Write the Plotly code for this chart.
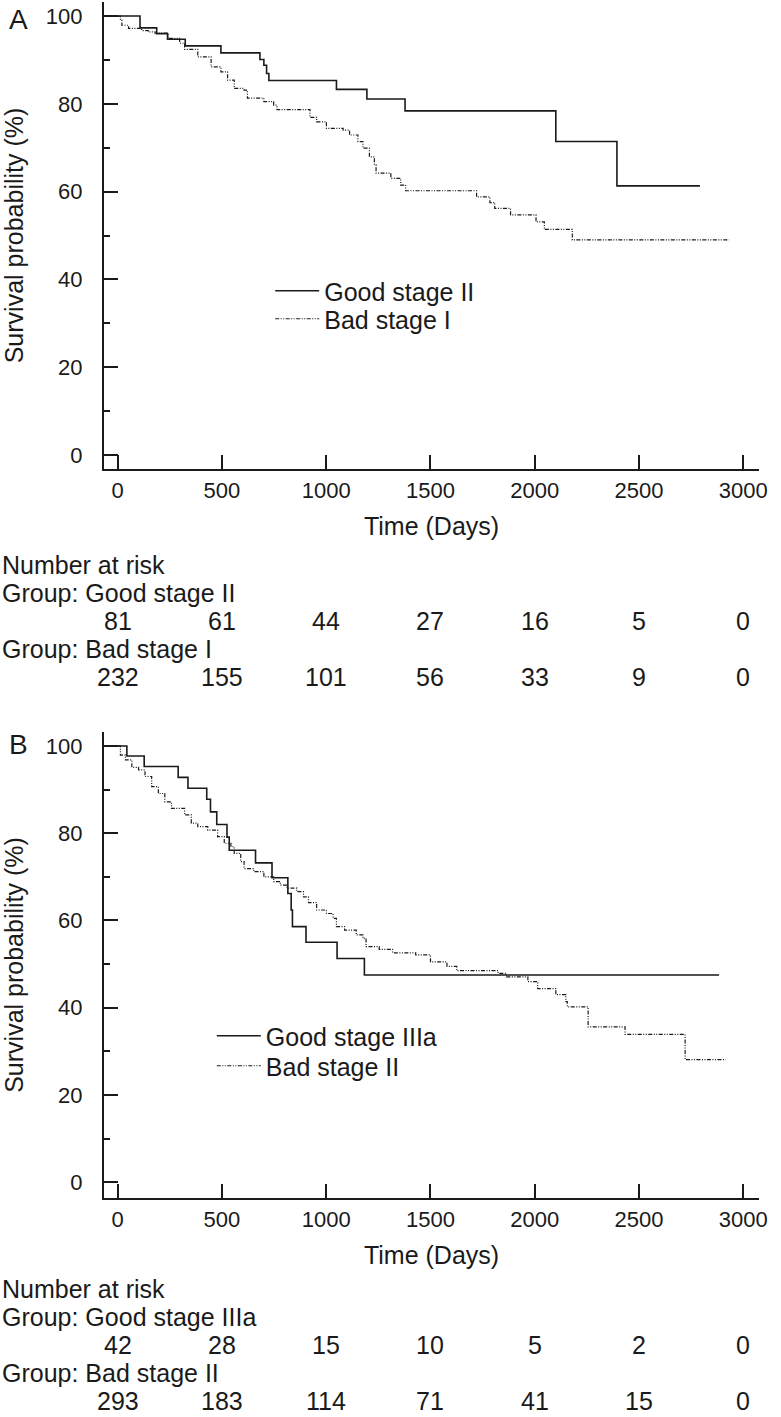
import plotly.graph_objects as go

# ---------------- data ----------------
# Panel A
goodA_t = [0, 107, 187, 239, 324, 495, 682, 701, 714, 725, 1049, 1195, 1378, 2101, 2394, 2792]
goodA_s = [100, 97.3, 96.0, 94.7, 93.2, 91.6, 90.1, 88.8, 86.9, 85.3, 83.3, 81.1, 78.4, 71.4, 61.3, 61.3]

badA_t = [0, 13, 20, 52, 115, 147, 179, 242, 297, 321, 384, 448, 495, 527, 559, 606, 622, 701, 748, 764,
          922, 954, 1001, 1081, 1112, 1152, 1176, 1207, 1231, 1239, 1310, 1357, 1381, 1721, 1785, 1808,
          1884, 2006, 2046, 2180, 2932]
badA_s = [100, 99.1, 97.9, 97.2, 96.7, 96.4, 96.1, 94.9, 93.8, 92.4, 90.7, 88.4, 87.3, 85.4, 83.5, 83.1, 81.3, 80.5, 79.7, 78.7,
          76.9, 75.9, 74.4, 74.0, 72.9, 71.4, 69.9, 67.9, 66.1, 64.2, 63.0, 61.5, 60.2, 58.8, 57.5, 56.2,
          54.7, 53.1, 51.4, 49.0, 49.0]

# Panel B
goodB_t = [0, 44, 127, 290, 337, 427, 445, 475, 524, 535, 661, 740, 816, 832, 838, 903, 1052, 1183, 2884]
goodB_s = [100, 97.7, 95.3, 92.8, 90.3, 87.8, 84.9, 82.0, 79.1, 76.1, 73.2, 69.8, 66.2, 62.4, 58.6, 55.0, 51.3, 47.5, 47.5]

badB_t = [0, 13, 37, 68, 100, 131, 163, 195, 226, 258, 321, 353, 384, 432, 479, 511, 543, 559, 590, 606,
          653, 701, 748, 780, 812, 859, 891, 915, 954, 1001, 1033, 1049, 1088, 1144, 1176, 1191, 1254, 1318,
          1429, 1500, 1579, 1626, 1824, 1864, 1967, 2014, 2101, 2149, 2156, 2256, 2433, 2721, 2916]
badB_s = [100, 97.9, 96.8, 95.1, 94.5, 93.0, 90.7, 89.1, 87.2, 85.7, 84.2, 82.3, 81.5, 80.7, 79.2, 77.7, 76.9, 75.4, 73.5, 71.9,
          71.2, 70.0, 68.9, 68.1, 67.4, 66.6, 65.4, 64.1, 62.4, 61.6, 60.5, 58.6, 57.8, 56.7, 55.9, 54.0, 53.4, 52.6,
          52.1, 50.5, 49.5, 48.5, 47.9, 47.1, 46.0, 44.4, 43.0, 41.4, 40.2, 35.6, 33.9, 28.1, 28.1]

risk_times = [0, 500, 1000, 1500, 2000, 2500, 3000]
riskA_good = [81, 61, 44, 27, 16, 5, 0]
riskA_bad = [232, 155, 101, 56, 33, 9, 0]
riskB_good = [42, 28, 15, 10, 5, 2, 0]
riskB_bad = [293, 183, 114, 71, 41, 15, 0]

namesA = ["Good stage II", "Bad stage I"]
namesB = ["Good stage IIIa", "Bad stage II"]

x_ticks = [0, 500, 1000, 1500, 2000, 2500, 3000]
y_ticks = [0, 20, 40, 60, 80, 100]

# ---------------- figure ----------------
W, H = 781, 1417
FONT = "Liberation Sans, Arial, Helvetica, sans-serif"
INK = "#1a1a1a"
DASH = "4px,1.5px,1px,1.5px,1px,1.5px"


def py(p):
    return 1 - p / H


fig = go.Figure()
solid = dict(shape="hv", color=INK, width=1.6)
dotted = dict(shape="hv", color=INK, width=1.2, dash=DASH)

fig.add_trace(go.Scatter(x=goodA_t, y=goodA_s, mode="lines", line=solid, name=namesA[0],
                         xaxis="x", yaxis="y", legend="legend"))
fig.add_trace(go.Scatter(x=badA_t, y=badA_s, mode="lines", line=dotted, name=namesA[1],
                         xaxis="x", yaxis="y", legend="legend2"))
fig.add_trace(go.Scatter(x=goodB_t, y=goodB_s, mode="lines", line=solid, name=namesB[0],
                         xaxis="x2", yaxis="y2", legend="legend3"))
fig.add_trace(go.Scatter(x=badB_t, y=badB_s, mode="lines", line=dotted, name=namesB[1],
                         xaxis="x2", yaxis="y2", legend="legend4"))

xdom = [105 / W, 767 / W]


def xaxis_cfg(anchor):
    return dict(domain=xdom, range=[-66, 3076], anchor=anchor, tickvals=x_ticks,
                ticks="inside", ticklen=14, tickwidth=2, tickcolor=INK,
                showline=True, linewidth=2, linecolor=INK, showgrid=False, zeroline=False,
                tickfont=dict(size=22, color=INK, family=FONT), ticklabelstandoff=1,
                title=dict(text="Time (Days)", font=dict(size=25, color=INK, family=FONT), standoff=15))


def yaxis_cfg(anchor, dom, rng):
    return dict(domain=dom, range=rng, anchor=anchor, tickvals=y_ticks,
                ticks="inside", ticklen=14, tickwidth=2, tickcolor=INK,
                minor=dict(tickvals=[10, 30, 50, 70, 90], ticks="inside", ticklen=6, tickwidth=1.5, tickcolor=INK),
                showline=True, linewidth=2, linecolor=INK, showgrid=False, zeroline=False,
                tickfont=dict(size=22, color=INK, family=FONT), ticklabelstandoff=15,
                title=dict(text="Survival probability (%)", font=dict(size=25, color=INK, family=FONT), standoff=17))


legend_common = dict(font=dict(size=25, color=INK, family=FONT), bgcolor="rgba(0,0,0,0)",
                     borderwidth=0, itemwidth=44, xanchor="left", yanchor="top", tracegroupgap=0)

fig.update_layout(
    width=W, height=H,
    margin=dict(l=0, r=0, t=0, b=0),
    paper_bgcolor="white", plot_bgcolor="white",
    font=dict(family=FONT, color=INK),
    xaxis=xaxis_cfg("y"),
    yaxis=yaxis_cfg("x", [py(469), py(2)], [-3.2, 103.2]),
    xaxis2=xaxis_cfg("y2"),
    yaxis2=yaxis_cfg("x2", [py(1198), py(732)], [-3.6, 103.2]),
    legend=dict(x=273 / W, y=py(268), **legend_common),
    legend2=dict(x=273 / W, y=py(296), **legend_common),
    legend3=dict(x=214 / W, y=py(1013), **legend_common),
    legend4=dict(x=214 / W, y=py(1043), **legend_common),
    showlegend=True,
)

ann = []
ann.append(dict(text="A", x=19 / W, y=py(19), xref="paper", yref="paper", showarrow=False,
                font=dict(size=28, color=INK, family=FONT), xanchor="center", yanchor="middle"))
ann.append(dict(text="B", x=19 / W, y=py(744), xref="paper", yref="paper", showarrow=False,
                font=dict(size=28, color=INK, family=FONT), xanchor="center", yanchor="middle"))

TF = dict(size=25, color=INK, family=FONT)


def table(xref, y0, names, good, bad):
    rows = [("Number at risk", y0), ("Group: " + names[0], y0 + 28), ("Group: " + names[1], y0 + 84)]
    for txt, yy in rows:
        ann.append(dict(text=txt, x=0, y=py(yy), xref="paper", yref="paper", showarrow=False,
                        font=TF, xanchor="left", yanchor="middle"))
    for vals, yy in ((good, y0 + 56), (bad, y0 + 112)):
        for t, v in zip(risk_times, vals):
            ann.append(dict(text=str(v), x=t, y=py(yy), xref=xref, yref="paper", showarrow=False,
                            font=TF, xanchor="center", yanchor="middle"))


table("x", 565, namesA, riskA_good, riskA_bad)
table("x2", 1289, namesB, riskB_good, riskB_bad)

fig.update_layout(annotations=ann)
fig.write_html("out.html", config={"displayModeBar": False},
               post_script="document.body.style.margin='0';document.body.style.overflow='hidden';")
